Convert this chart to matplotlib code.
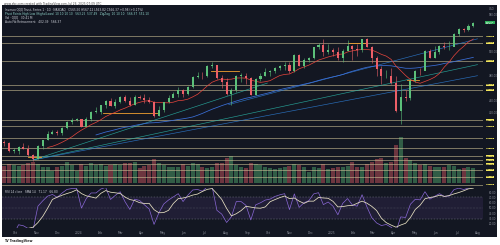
import matplotlib
matplotlib.use("Agg")
import matplotlib.pyplot as plt
import matplotlib.dates as mdates
import matplotlib.transforms as mtrans
import numpy as np
import pandas as pd

# weekly candles (price units of the right axis)
start_week = "2023-09-15"
closes = [370, 358, 358, 364, 361, 351, 345, 366, 375, 385, 389, 387, 395, 405, 408, 409,
          397, 409, 421, 421, 432, 439, 431, 438, 446, 439, 432, 445, 444, 441, 438, 414,
          425, 437, 444, 450, 457, 451, 462, 478, 480, 479, 496, 497, 476, 470, 450, 456,
          480, 480, 476, 449, 475, 480, 486, 488, 493, 496, 498, 487, 514, 496, 505, 509,
          526, 530, 518, 522, 518, 508, 521, 529, 523, 522, 539, 527, 508, 491, 479, 480,
          468, 422, 446, 444, 472, 488, 487, 521, 509, 519, 529, 526, 527, 548, 556, 555,
          561, 566]
highs = [376, 372, 362, 365, 371, 367, 353, 367, 376, 390, 391, 392, 396, 407, 412, 412,
         408, 413, 422, 429, 433, 440, 443, 442, 447, 449, 445, 449, 448, 450, 446, 439,
         430, 438, 448, 453, 461, 459, 464, 480, 486, 486, 497, 503, 498, 481, 477, 460,
         481, 485, 484, 478, 477, 484, 492, 489, 494, 498, 502, 503, 515, 516, 509, 510,
         527, 533, 539, 531, 525, 526, 524, 538, 530, 531, 540, 541, 529, 512, 496, 489,
         492, 480, 466, 456, 474, 490, 492, 522, 524, 528, 530, 535, 537, 549, 557, 558,
         564, 567]
lows = [366, 356, 354, 353, 360, 350, 342, 345, 361, 376, 385, 383, 383, 393, 402, 407,
        396, 400, 406, 419, 417, 428, 430, 427, 436, 438, 431, 432, 442, 436, 436, 413,
        414, 421, 435, 445, 446, 445, 449, 460, 477, 474, 478, 492, 475, 460, 448, 433,
        453, 470, 466, 448, 448, 471, 480, 479, 484, 490, 489, 485, 486, 495, 492, 502,
        507, 524, 512, 516, 512, 506, 503, 520, 505, 512, 519, 526, 500, 479, 466, 477,
        467, 421, 402, 439, 441, 469, 481, 503, 508, 508, 515, 523, 522, 528, 545, 551,
        552, 559]
volumes = [210, 230, 220, 205, 215, 240, 260, 230, 200, 190, 150, 200, 210, 260, 220, 150,
           230, 210, 240, 220, 230, 210, 220, 230, 220, 250, 240, 260, 180, 210, 220, 290,
           240, 220, 200, 190, 200, 230, 210, 240, 230, 200, 180, 200, 250, 240, 300, 330,
           220, 190, 180, 240, 230, 220, 200, 180, 170, 180, 200, 210, 230, 220, 190, 140,
           190, 180, 230, 170, 180, 190, 200, 210, 260, 200, 190, 230, 260, 290, 300, 240,
           260, 470, 560, 300, 280, 250, 220, 230, 210, 200, 200, 190, 220, 210, 170, 180,
           190, 180]

# horizontal levels drawn on the chart (yellow price tags on the axis)
levels = [543.8, 533.5, 504.2, 465.1, 456.9, 407.4, 397.6, 378.1, 361.8, 349.0, 342.6,
          336.2, 327.0, 315.4, 303.0]
# trend lines: (start date, start price, end date, end price)
trend_lines = [("2023-10-27", 343, "2025-07-31", 498, "#2ab7a9"),
               ("2023-10-27", 343, "2025-07-31", 480, "#2e7fd8"),
               ("2023-10-27", 343, "2024-09-30", 468, "#2ab7a9"),
               ("2024-08-05", 433, "2025-07-31", 540, "#2e7fd8")]
# short orange support segments
supports = [("2024-02-05", "2024-04-25", 419), ("2024-07-10", "2024-08-20", 487),
            ("2025-01-25", "2025-02-20", 533), ("2025-04-20", "2025-05-08", 473),
            ("2023-10-20", "2023-11-08", 347)]
month_labels = ["Oct", "Nov", "Dec", "2024", "Feb", "Mar", "Apr", "May", "Jun", "Jul",
                "Aug", "Sep", "Oct", "Nov", "Dec", "2025", "Feb", "Mar", "Apr", "May",
                "Jun", "Jul", "Aug"]

dates = pd.date_range(start_week, periods=len(closes), freq="W-FRI")
df = pd.DataFrame({"c": closes, "h": highs, "l": lows, "v": volumes}, index=dates)
df["o"] = df["c"].shift(1).fillna(372)
up = df["c"] >= df["o"]

ma_fast = df["c"].rolling(10).mean()
ma_slow = df["c"].rolling(40, min_periods=20).mean()
delta = df["c"].diff()
gain = delta.clip(lower=0).ewm(alpha=1 / 4, adjust=False).mean()
loss = (-delta.clip(upper=0)).ewm(alpha=1 / 4, adjust=False).mean()
rsi = 100 - 100 / (1 + gain / loss)
rsi_ma = rsi.rolling(4).mean()

BG = "#131722"
GREEN = "#5cc07a"
RED = "#ec5f68"
AXT = "#8a8e99"

fig = plt.figure(figsize=(5, 2.45), dpi=100)
fig.patch.set_facecolor("white")
fig.patches.append(plt.Rectangle((0.004, 0.0327), 0.99, 0.947, transform=fig.transFigure,
                                 facecolor=BG, edgecolor="none", zorder=0))

xlim = (mdates.date2num(pd.Timestamp("2023-09-12")), mdates.date2num(pd.Timestamp("2025-08-08")))

ax = fig.add_axes([0.004, 0.2367, 0.962, 0.7429])
axv = fig.add_axes([0.004, 0.2531, 0.962, 0.20], sharex=ax)
axr = fig.add_axes([0.004, 0.0694, 0.962, 0.1633], sharex=ax)
for a in (ax, axv, axr):
    a.set_facecolor("none")
    for s in a.spines.values():
        s.set_visible(False)
ax.set_zorder(3)
axv.set_zorder(2)
axr.set_zorder(2)

x = mdates.date2num(df.index)

# volume
axv.bar(x, df["v"], width=5.8, color=np.where(up, GREEN, RED), alpha=0.42, linewidth=0)
axv.set_ylim(0, 600)
axv.axis("off")

# price
for lv in levels:
    ax.axhline(lv, color="#c9bd93", lw=0.55, alpha=0.75, zorder=1)
for d0, p0, d1, p1, col in trend_lines:
    ax.plot([pd.Timestamp(d0), pd.Timestamp(d1)], [p0, p1], color=col, lw=0.45, alpha=0.85, zorder=2)
for d0, d1, p in supports:
    ax.plot([pd.Timestamp(d0), pd.Timestamp(d1)], [p, p], color="#f0a030", lw=0.6, zorder=2)
ax.plot(x, ma_slow, color="#3b6fd8", lw=0.55, zorder=2)
ax.plot(x, ma_fast, color="#e8453c", lw=0.5, zorder=2)

cols = np.where(up, GREEN, RED)
ax.vlines(x, df["l"], df["h"], colors=cols, lw=0.4, zorder=3)
ax.bar(x, (df["c"] - df["o"]).abs().clip(lower=0.8), bottom=np.minimum(df["o"], df["c"]),
       width=3.0, color=cols, linewidth=0, zorder=4)

last = df["c"].iloc[-1]
ax.set_xlim(*xlim)
ax.set_ylim(299, 595)
ax.yaxis.tick_right()
# the axis hides a grey price label where a coloured tag sits on it
tags = np.array(levels + [last])
yt = [v for v in np.arange(320, 595, 20) if np.min(np.abs(tags - v)) > 9]
ax.set_yticks(yt)
ax.set_yticklabels([f"{v:.2f}" for v in yt])
ax.tick_params(axis="y", length=0, labelsize=1.9, colors=AXT, pad=4)
ax.tick_params(axis="x", bottom=False, labelbottom=False)
ax.text(1.012, 0.975, "USD", transform=ax.transAxes, fontsize=1.9, color=AXT)

tr = mtrans.blended_transform_factory(ax.transAxes, ax.transData)
for lv in levels:
    ax.text(1.006, lv, f"{lv:.2f}", transform=tr, fontsize=1.7, color="#131722", va="center",
            ha="left", clip_on=False, zorder=6,
            bbox=dict(boxstyle="square,pad=0.15", fc="#f2e55c", ec="none"))
ax.text(1.006, last, f"{last:.2f}\n00:00", transform=tr, fontsize=1.7, color="white", va="center",
        ha="left", clip_on=False, zorder=6, linespacing=1.1,
        bbox=dict(boxstyle="square,pad=0.25", fc="#2fb05a", ec="none"))

# legend lines
ax.text(0.006, 0.985, "Invesco QQQ Trust, Series 1 \u00b7 1D \u00b7 NASDAQ   O565.50 H567.12 L563.82 C566.37 +0.98 (+0.17%)",
        transform=ax.transAxes, fontsize=2.1, color="#d1d4dc", va="top")
ax.text(0.006, 0.963, "Pivot Points High Low (Highs/Lows) 10 10 10 10   563.25  537.49   ZigZag  10 10 10   566.37  552.10",
        transform=ax.transAxes, fontsize=2.1, color="#8fd3c9", va="top")
ax.text(0.006, 0.941, "Vol \u00b7 QQQ   30.41 M", transform=ax.transAxes, fontsize=2.1, color="#d1d4dc", va="top")
ax.text(0.006, 0.919, "Auto Fib Retracement   402.39   566.37", transform=ax.transAxes,
        fontsize=2.1, color="#d1d4dc", va="top")

# RSI
axr.axhspan(30, 70, color="#7e57c2", alpha=0.12, lw=0)
for lv, ls in ((70, (0, (3, 3))), (50, (0, (1, 2))), (30, (0, (3, 3)))):
    axr.axhline(lv, color="#787b86", lw=0.35, ls=ls)
axr.plot(x, rsi, color="#8a68d6", lw=0.5)
axr.plot(x, rsi_ma, color="#e9e2c4", lw=0.55)
axr.set_ylim(12, 88)
axr.yaxis.tick_right()
axr.set_yticks([20, 30, 40, 50, 60, 70, 80])
axr.set_yticklabels([f"{v:.2f}" for v in [20, 30, 40, 50, 60, 70, 80]])
axr.tick_params(axis="y", length=0, labelsize=1.9, colors=AXT, pad=4)
axr.text(0.006, 0.96, "RSI 14 close   SMA 14   71.17   66.80", transform=axr.transAxes,
         fontsize=2.1, color="#d1d4dc", va="top")

month_ticks = pd.date_range("2023-10-01", periods=len(month_labels), freq="MS")
axr.set_xticks(mdates.date2num(month_ticks))
axr.set_xticklabels(month_labels)
axr.tick_params(axis="x", length=0, labelsize=2.2, colors=AXT, pad=2.5)
axr.set_xlim(*xlim)

fig.text(0.008, 0.99, "www.abc.com created with TradingView.com, Jul 26, 2025 07:09 UTC",
         fontsize=2.1, color="#444444", va="top")
fig.text(0.008, 0.016, "TV TradingView", fontsize=2.3, color="#222222", va="center",
         fontweight="bold")

fig.savefig("out.png", dpi=100, facecolor="white")
